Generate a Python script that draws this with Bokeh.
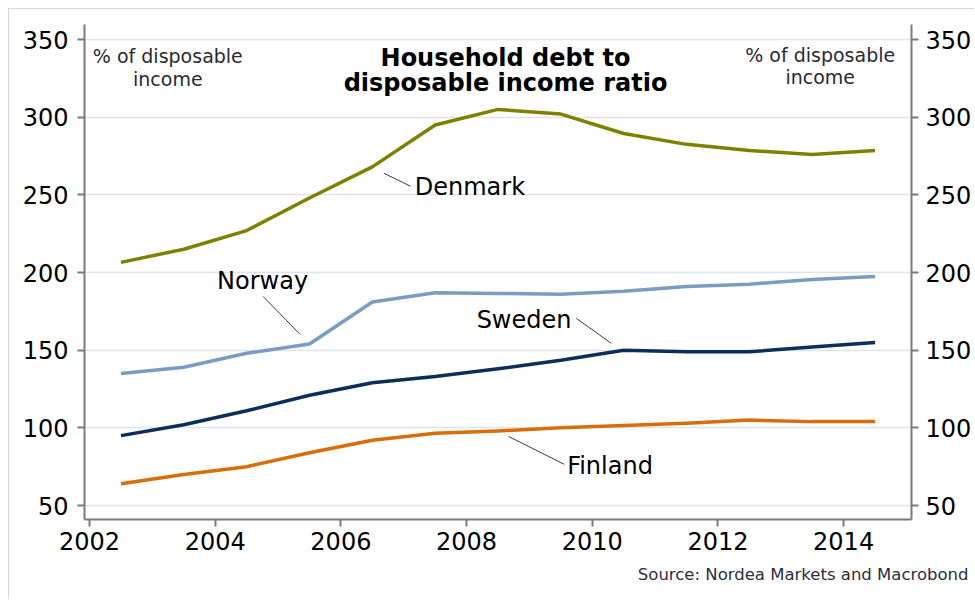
from bokeh.plotting import figure
from bokeh.models import ColumnDataSource, LinearAxis, FixedTicker, Label, Range1d, Title
from bokeh.embed import file_html
from bokeh.resources import INLINE

# ---------------- data ----------------
years = [2002.5, 2003.5, 2004.5, 2005.5, 2006.5, 2007.5, 2008.5,
         2009.5, 2010.5, 2011.5, 2012.5, 2013.5, 2014.5]
denmark = [206.5, 215, 227, 248, 268, 295, 305, 302, 289.5, 282.5, 278.5, 276, 278.5]
norway = [135, 139, 148, 154, 181, 187, 186.5, 186, 188, 191, 192.5, 195.5, 197.5]
sweden = [95, 102, 111, 121, 129, 133, 138, 143.5, 150, 149, 149, 152, 155]
finland = [64, 70, 75, 84, 92, 96.5, 98, 100, 101.5, 103, 105, 104, 104]

x_ticks = [2002, 2004, 2006, 2008, 2010, 2012, 2014]
y_ticks = [50, 100, 150, 200, 250, 300, 350]

title_lines = ["Household debt to", "disposable income ratio"]
unit_lines = ["% of disposable", "income"]
source_text = "Source: Nordea Markets and Macrobond"

series_names = ["Denmark", "Norway", "Sweden", "Finland"]
series_values = [denmark, norway, sweden, finland]
series_colors = ["#808000", "#7b9bc4", "#0c2e5b", "#d86e0a"]

FONT = "DejaVu Sans"

p = figure(width=966, height=591, output_backend="svg", toolbar_location=None,
           x_range=Range1d(2001.92, 2015.08), y_range=Range1d(40.99, 359.66),
           min_border_left=75, min_border_right=64, min_border_top=15,
           min_border_bottom=81)
p.styles = {"margin-left": "8px", "margin-top": "8px",
            "border-top": "1px solid #d4d4d4", "border-left": "1px solid #d4d4d4"}
p.outline_line_color = None
p.background_fill_color = "white"
p.border_fill_color = "white"

# axes
def style_axis(ax):
    ax.axis_line_color = "#7a7a7a"
    ax.axis_line_width = 2
    ax.major_tick_line_color = "#7a7a7a"
    ax.major_tick_line_width = 2
    ax.major_tick_in = 0
    ax.major_tick_out = 7
    ax.minor_tick_line_color = None
    ax.major_label_text_font = FONT
    ax.major_label_text_font_size = "24px"
    ax.major_label_text_color = "#000000"

p.xaxis.ticker = FixedTicker(ticks=x_ticks)
p.yaxis.ticker = FixedTicker(ticks=y_ticks)
style_axis(p.xaxis[0])
style_axis(p.yaxis[0])
p.xaxis.major_label_standoff = 5
p.yaxis.major_label_standoff = 9

ra = LinearAxis(ticker=FixedTicker(ticks=y_ticks))
style_axis(ra)
ra.major_label_standoff = 7
p.add_layout(ra, "right")

p.xgrid.grid_line_color = None
p.ygrid.ticker = FixedTicker(ticks=y_ticks)
p.ygrid.grid_line_color = "#dde4ec"
p.ygrid.grid_line_width = 1.5

# lines
for name, vals, col in zip(series_names, series_values, series_colors):
    src = ColumnDataSource(dict(x=years, y=vals))
    p.line("x", "y", source=src, line_color=col, line_width=3.5, line_join="round")

# series labels with leader lines (data coordinates)
label_pos = {
    "Denmark": (2007.175, 255.1, "left"),
    "Norway": (2004.03, 194.3, "left"),
    "Sweden": (2008.16, 169.2, "left"),
    "Finland": (2009.60, 75.6, "left"),
}
leaders = {
    "Denmark": ((2006.683, 2007.111), (263.9, 255.5)),
    "Norway": ((2004.762, 2005.349), (184.6, 160.2)),
    "Sweden": ((2009.746, 2010.302), (170.5, 154.4)),
    "Finland": ((2008.667, 2009.556), (94.5, 76.5)),
}
for name in series_names:
    lx, ly = leaders[name]
    p.line(list(lx), list(ly), line_color="#3c3c3c", line_width=1)
    x, y, al = label_pos[name]
    p.add_layout(Label(x=x, y=y, text=name, text_font=FONT, text_font_size="24px",
                       text_color="#000000", text_align=al, text_baseline="middle"))

# title
for txt, y in zip(title_lines, [338.4, 322.0]):
    p.add_layout(Label(x=2008.62, y=y, text=txt, text_font=FONT, text_font_size="24px",
                       text_font_style="bold", text_color="#000000",
                       text_align="center", text_baseline="middle"))

# unit annotations
for cx, ys in [(2003.246, [339.1, 324.6]), (2013.627, [340.3, 325.9])]:
    for txt, y in zip(unit_lines, ys):
        p.add_layout(Label(x=cx, y=y, text=txt, text_font=FONT, text_font_size="19px",
                           text_color="#2a2a33", text_align="center",
                           text_baseline="middle"))

# source
p.add_layout(Title(text=source_text, align="right", offset=-57, text_font=FONT,
                   text_font_size="16.5px", text_font_style="normal",
                   text_color="#2d2d3c", standoff=21), "below")

open("out.html", "w").write(file_html(p, INLINE))
